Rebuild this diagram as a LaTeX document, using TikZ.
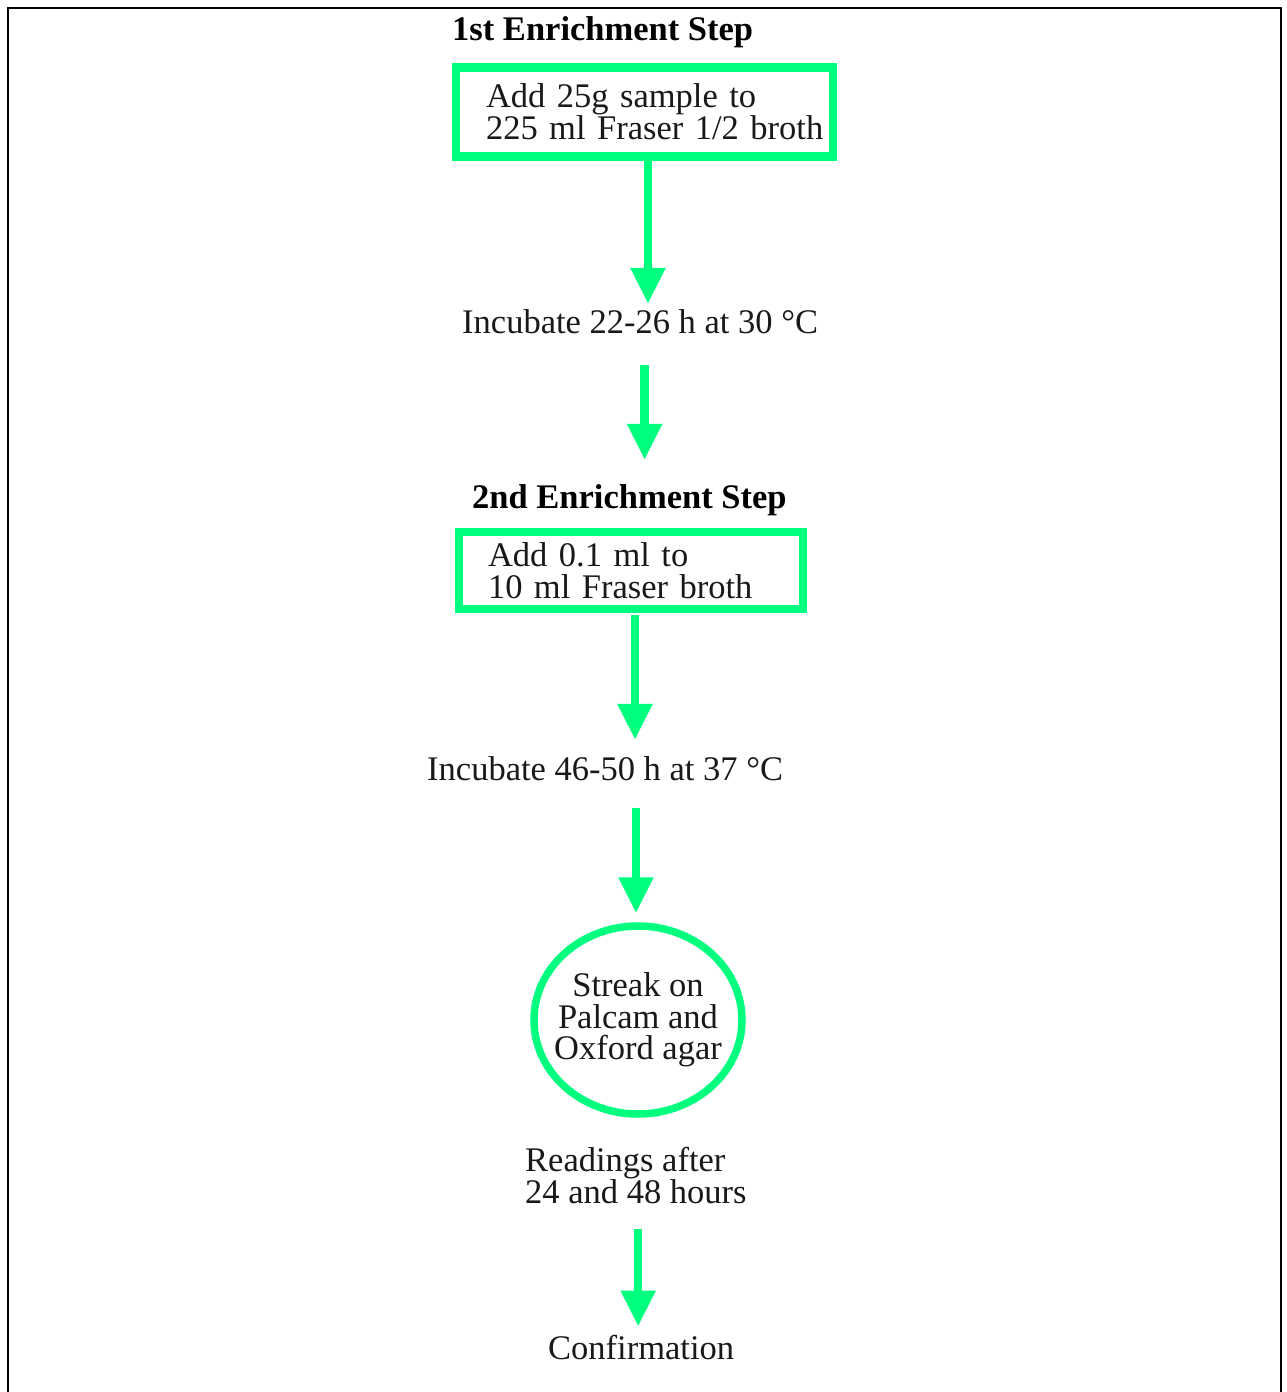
\documentclass[tikz,border=0pt]{standalone}
\usepackage{fontspec}
\setmainfont{Liberation Serif}
\usetikzlibrary{arrows.meta,shapes.geometric}
\definecolor{sgreen}{RGB}{0,255,127}
\definecolor{inkc}{RGB}{25,25,25}
\begin{document}
\begin{tikzpicture}[x=1pt,y=-1pt,
  txt/.style={inner sep=0pt, text=inkc, font=\fontsize{34.5}{32}\selectfont},
  ttl/.style={inner sep=0pt, text=black, font=\fontsize{34.5}{32}\selectfont\bfseries},
  gbox/.style={draw=sgreen, line width=8.5pt, rectangle, inner sep=0pt, align=left, text=inkc, execute at begin node={\hfuzz=40pt}},
  gell/.style={draw=sgreen, line width=7.5pt, ellipse, inner xsep=-40pt, inner ysep=-20pt, align=center, text=inkc, font=\fontsize{34.5}{31.5}\selectfont},
  arr/.style={draw=sgreen, line width=8.5pt, -{Triangle[width=33pt,length=36pt]}}
]
\useasboundingbox (0,0) rectangle (1287,1392);
\fill[white] (0,0) rectangle (1287,1392);
\draw[line width=2.5pt, black] (8,1392) -- (8,8) -- (1281,8) -- (1281,1392);

\node[ttl, anchor=base west] (t1) at (452,40) {1st Enrichment Step};
\node[gbox, minimum width=377pt, minimum height=89pt, text width=317pt, font=\fontsize{34.5}{32}\selectfont] (box1) at (644.5,112)
  {\mbox{Add 25g sample to}\\\mbox{225 ml Fraser 1/2 broth}};
\node[txt, anchor=base west] (inc1) at (462,333) {Incubate 22-26 h at 30 °C};
\node[ttl, anchor=base west] (t2) at (472,508) {2nd Enrichment Step};
\node[gbox, minimum width=344pt, minimum height=77pt, text width=286pt, font=\fontsize{34.5}{31.5}\selectfont] (box2) at (631,570.5)
  {Add 0.1 ml to\\10 ml Fraser broth};
\node[txt, anchor=base west] (inc2) at (427,780) {Incubate 46-50 h at 37 °C};
\node[gell, minimum width=208pt, minimum height=188pt] (circ) at (638,1020)
  {Streak on\\Palcam and\\Oxford agar};
\node[txt, anchor=west, align=left] (read) at (525,1176) {Readings after\\24 and 48 hours};
\node[txt, anchor=base west] (conf) at (548,1359) {Confirmation};

\draw[arr, shorten >=5pt] ([xshift=3.5pt]box1.south) -- ([xshift=3.5pt]box1.south |- inc1.north);
\draw[arr, shorten <=31pt, shorten >=24pt] ([xshift=4.5pt]inc1.south) -- ([xshift=4.5pt]inc1.south |- t2.north);
\draw[arr, shorten <=2pt, shorten >=16pt] ([xshift=4pt]box2.south) -- ([xshift=4pt]box2.south |- inc2.north);
\draw[arr, shorten <=27pt, shorten >=9pt] ([xshift=-2pt]inc2.south -| circ.north) -- ([xshift=-2pt]circ.north);
\draw[arr, shorten <=24pt, shorten >=8pt] ([xshift=-3pt]read.south -| conf.north) -- ([xshift=-3pt]conf.north);
\end{tikzpicture}
\end{document}
